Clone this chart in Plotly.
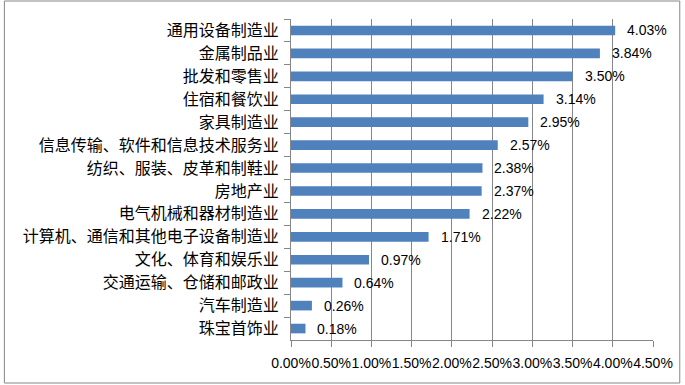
import plotly.graph_objects as go

categories = ["通用设备制造业", "金属制品业", "批发和零售业", "住宿和餐饮业", "家具制造业",
              "信息传输、软件和信息技术服务业", "纺织、服装、皮革和制鞋业", "房地产业",
              "电气机械和器材制造业", "计算机、通信和其他电子设备制造业", "文化、体育和娱乐业",
              "交通运输、仓储和邮政业", "汽车制造业", "珠宝首饰业"]
values_pct = [4.03, 3.84, 3.50, 3.14, 2.95, 2.57, 2.38, 2.37, 2.22, 1.71, 0.97, 0.64, 0.26, 0.18]
values = [v / 100 for v in values_pct]
labels = [f"{v:.2f}%" for v in values_pct]

W, H = 685, 385
L, R, T, B = 291, 29, 19, 45
pw, ph = W - L - R, H - T - B

fig = go.Figure(go.Bar(
    x=values, y=categories, orientation="h",
    marker=dict(color="#4F81BD", line=dict(width=0)),
    width=0.42, hoverinfo="skip",
))

for c, v, t in zip(categories, values, labels):
    fig.add_annotation(x=v, y=c, text=t, showarrow=False, xanchor="left",
                       xshift=10, font=dict(family="Liberation Sans, Arial", size=14, color="#000000"))

grid = "#868686"
fig.update_layout(
    width=W, height=H,
    margin=dict(l=L, r=R, t=T, b=B),
    paper_bgcolor="white", plot_bgcolor="white",
    showlegend=False,
    xaxis=dict(range=[0, 0.045], dtick=0.005, tick0=0, tickformat=".2%", tickangle=0,
               showgrid=True, gridcolor=grid, gridwidth=1,
               showline=True, linecolor=grid, linewidth=1,
               ticks="outside", ticklen=6, tickcolor=grid, ticklabelstandoff=4,
               zeroline=False,
               tickfont=dict(family="Liberation Sans, Arial", size=14, color="#000000")),
    yaxis=dict(categoryorder="array", categoryarray=categories, autorange="reversed",
               showline=True, linecolor=grid, linewidth=1,
               ticks="outside", ticklen=6, tickcolor=grid, tickson="boundaries",
               ticklabelstandoff=8,
               showgrid=False,
               tickfont=dict(family="Noto Sans CJK SC", size=16, color="#000000")),
    shapes=[dict(type="rect", xref="paper", yref="paper",
                 x0=(2 - L) / pw, x1=(683 - L) / pw,
                 y0=(H - B - 383) / ph, y1=(H - B - 1) / ph,
                 line=dict(color=grid, width=1), fillcolor="rgba(0,0,0,0)", layer="below")],
)

fig.write_html("out.html", config={"displayModeBar": False},
               post_script="document.body.style.margin='0';")
